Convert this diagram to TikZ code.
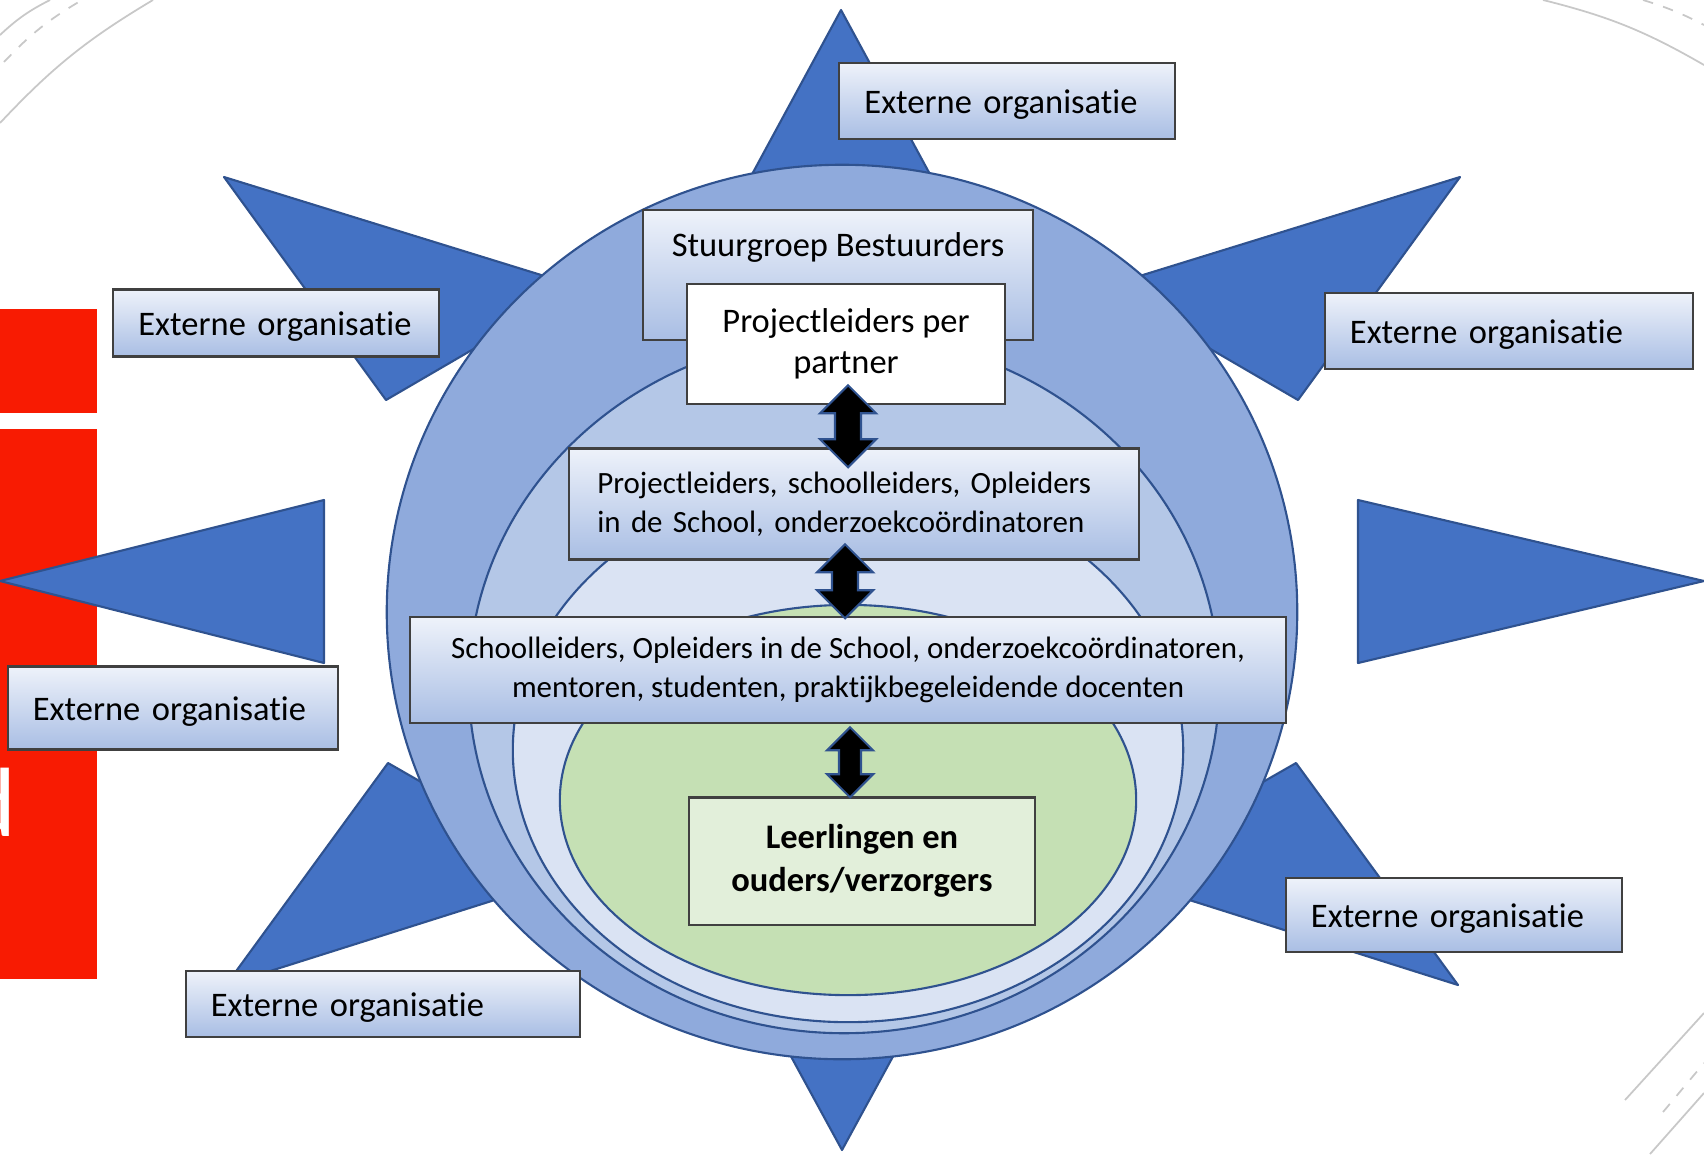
\documentclass[tikz,border=0pt]{standalone}
\usepackage{fontspec}
\setmainfont{Carlito}[Ligatures=NoCommon]
\usetikzlibrary{calc}
\definecolor{ringedge}{HTML}{2F528F}
\definecolor{rayblue}{HTML}{4472C4}
\definecolor{ringA}{HTML}{8FAADC}
\definecolor{ringB}{HTML}{B4C7E7}
\definecolor{ringC}{HTML}{DAE3F3}
\definecolor{ringD}{HTML}{C5E0B4}
\definecolor{boxedge}{HTML}{404040}
\definecolor{shadetop}{HTML}{EEF2FA}
\definecolor{shadebot}{HTML}{A9BEE4}
\definecolor{greenbox}{HTML}{E2EFDA}
\definecolor{slidered}{HTML}{F81B02}
\definecolor{deco}{HTML}{C8C8C8}
\begin{document}
\begin{tikzpicture}[x=0.01cm, y=-0.01cm]
    \tikzset{ray/.style={fill=rayblue, draw=ringedge, line width=0.6pt, line join=round},
        ring/.style={draw=ringedge, line width=0.6pt},
        decoline/.style={draw=deco, line width=0.5pt},
        extbox/.style={draw=boxedge, line width=0.6pt, top color=shadetop, bottom color=shadebot,
            inner xsep=0.25cm, align=left, font=\fontsize{9.8}{11.8}\selectfont},
        extorg/.style={extbox, text height=0.33cm, text depth=0.09cm},
        plainbox/.style={draw=boxedge, line width=0.6pt, align=center},
        blockarrow/.style={fill=black, draw=ringedge, line width=0.6pt, line join=miter}}
    \useasboundingbox (0,0) rectangle (1704,1154);
    \clip (0,0) rectangle (1704,1154);
    \draw[decoline] (0,123) to[bend left=8] (153,0);
    \draw[decoline, dashed] (4,62) to[bend left=8] (82,0);
    \draw[decoline] (0,35) to[bend left=8] (50,0);
    \draw[decoline] (1543,0) to[bend left=8] (1704,65);
    \draw[decoline, dashed] (1643,0) to[bend left=5] (1704,25);
    \draw[decoline] (1625,1100) -- (1704,1013);
    \draw[decoline, dashed] (1663,1112) -- (1704,1063);
    \draw[decoline] (1650,1154) -- (1704,1093);
    \fill[slidered] (0,309) rectangle (97,413);
    \fill[slidered] (0,429) rectangle (97,979);
    \node[text=white, anchor=base east, inner sep=0pt, font=\fontsize{28}{28}\selectfont] (d) at (17,836) {d};
    \filldraw[ray] (841,10) -- (971,250) -- (711,250) -- cycle;
    \filldraw[ray] (842,1150) -- (951,950) -- (733,950) -- cycle;
    \filldraw[ray] (0,581) -- (324,500) -- (324,663) -- cycle;
    \filldraw[ray] (1704,581) -- (1358,500) -- (1358,663) -- cycle;
    \filldraw[ray] (224,177) -- (580,287) -- (386,400) -- cycle;
    \filldraw[ray] (1460,177) -- (1104,287) -- (1298,400) -- cycle;
    \filldraw[ray] (388,763) -- (580,873) -- (226,985) -- cycle;
    \filldraw[ray] (1296,763) -- (1104,873) -- (1458,985) -- cycle;
    \filldraw[ring, fill=ringA] (842,612) ellipse [x radius=4.55cm, y radius=4.47cm];
    \filldraw[ring, fill=ringB] (844,684) ellipse [x radius=3.75cm, y radius=3.49cm];
    \filldraw[ring, fill=ringC] (848,750) ellipse [x radius=3.35cm, y radius=2.72cm];
    \filldraw[ring, fill=ringD] (848,800) ellipse [x radius=2.88cm, y radius=1.95cm];
    \node[extorg, text width=2.85cm, minimum height=0.76cm] (E1) at (1007,101) {\mbox{Externe organisatie}};
    \node[extorg, text width=2.75cm, minimum height=0.67cm] (E2) at (276,323) {\mbox{Externe organisatie}};
    \node[extorg, text width=3.18cm, minimum height=0.76cm] (E3) at (1509,331) {\mbox{Externe organisatie}};
    \node[extorg, text width=2.80cm, minimum height=0.83cm] (E4) at (173,708) {\mbox{Externe organisatie}};
    \node[extorg, text width=3.44cm, minimum height=0.63cm] (E5) at (383,1004) {\mbox{Externe organisatie}};
    \node[extorg, text width=2.86cm, minimum height=0.74cm] (E6) at (1454,915) {\mbox{Externe organisatie}};
    \node[extbox, align=center, inner xsep=0pt, inner ysep=0.1cm, minimum width=3.90cm,
        text height=0.37cm, text depth=0.73cm] (S) at (838,275) {Stuurgroep Bestuurders};
    \node[plainbox, fill=white, minimum width=3.17cm, minimum height=1.20cm,
        font=\fontsize{9.8}{11.8}\selectfont] (P) at (846,344) {Projectleiders per\\partner};
    \node[extbox, inner xsep=0.28cm, text width=5.13cm, minimum height=1.11cm,
        font=\fontsize{8.8}{11.1}\selectfont] (T) at (854,504)
        {Projectleiders, schoolleiders, Opleiders\\in de School, onderzoekcoördinatoren};
    \node[extbox, align=center, minimum width=8.76cm, minimum height=1.06cm,
        font=\fontsize{8.8}{11.1}\selectfont] (W) at (848,670)
        {Schoolleiders, Opleiders in de School, onderzoekcoördinatoren,\\mentoren, studenten, praktijkbegeleidende docenten};
    \node[plainbox, fill=greenbox, minimum width=3.46cm, minimum height=1.27cm,
        font=\bfseries\fontsize{9.8}{12.4}\selectfont] (L) at (862,861) {Leerlingen en\\ouders/verzorgers};
    \coordinate (a1) at ($(P.south)!0.5!(T.north)+(-2,0)$);
    \coordinate (a2) at ($(T.south)!0.5!(W.north)+(-6,-7)$);
    \coordinate (a3) at ($(W.south)!0.5!(L.north)+(-5,2)$);
    \filldraw[blockarrow] (a1) ++(0,-41) -- ++(28,28) -- ++(-15,0) -- ++(0,26) -- ++(15,0)
        -- ++(-28,28) -- ++(-28,-28) -- ++(15,0) -- ++(0,-26) -- ++(-15,0) -- cycle;
    \filldraw[blockarrow] (a2) ++(0,-37) -- ++(28,28) -- ++(-15,0) -- ++(0,18) -- ++(15,0)
        -- ++(-28,28) -- ++(-28,-28) -- ++(15,0) -- ++(0,-18) -- ++(-15,0) -- cycle;
    \filldraw[blockarrow] (a3) ++(0,-35) -- ++(23,23) -- ++(-12,0) -- ++(0,24) -- ++(12,0)
        -- ++(-23,23) -- ++(-23,-23) -- ++(12,0) -- ++(0,-24) -- ++(-12,0) -- cycle;
\end{tikzpicture}
\end{document}
